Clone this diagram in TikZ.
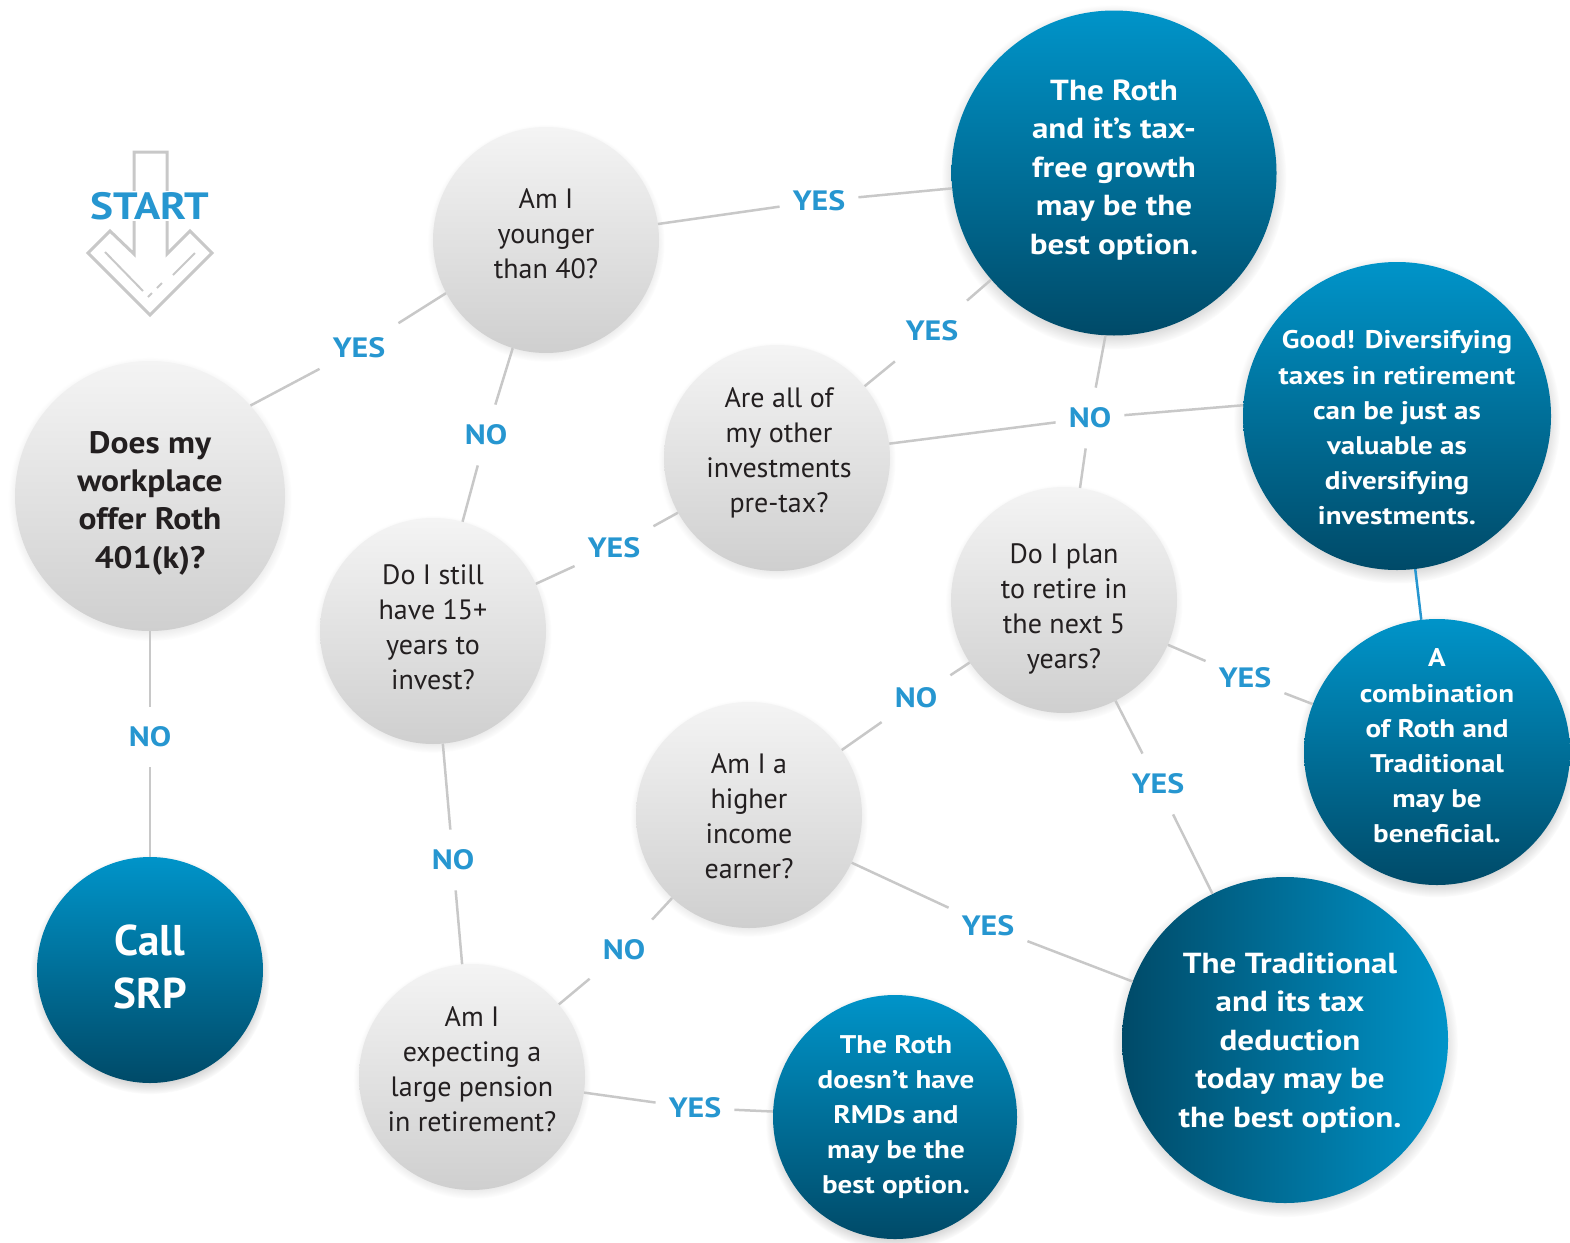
\documentclass[tikz,border=0pt]{standalone}
\usepackage{fontspec}
\setmainfont{PT Sans}
\newfontfamily\widefont{PT Sans}[FakeStretch=1.14]
\newfontfamily\qfont{PT Sans}[FakeStretch=1.08]
\usetikzlibrary{shadows,fadings}
\definecolor{btop}{RGB}{0,148,201}
\definecolor{bbot}{RGB}{0,74,104}
\definecolor{qtop}{RGB}{244,244,244}
\definecolor{qbot}{RGB}{207,207,207}
\definecolor{qtext}{RGB}{35,31,32}
\definecolor{lblue}{RGB}{38,150,208}
\definecolor{edgegray}{RGB}{200,200,200}
\tikzset{
  circ/.style={circle, inner sep=0pt, minimum size=#1},
  gq/.style={circ=#1, top color=qtop, bottom color=qbot,
    circular drop shadow={shadow xshift=0pt, shadow yshift=-3pt, shadow scale=1.05, opacity=0.3}},
  bc/.style={circ=#1, top color=btop, bottom color=bbot,
    circular drop shadow={shadow xshift=0pt, shadow yshift=-4pt, shadow scale=1.06, opacity=0.5}},
  bch/.style={circ=#1, left color=bbot, right color=btop,
    circular drop shadow={shadow xshift=0pt, shadow yshift=-4pt, shadow scale=1.06, opacity=0.5}},
  qtxt/.style={align=center, text=qtext, inner sep=0pt, font=\fontsize{28}{35}\selectfont},
  q1txt/.style={align=center, text=qtext, inner sep=0pt, font=\qfont\bfseries\fontsize{31}{38.3}\selectfont},
  bigtxt/.style={align=center, text=white, inner sep=0pt, font=\widefont\bfseries\fontsize{29}{38.5}\selectfont},
  smtxt/.style={align=center, text=white, inner sep=0pt, font=\widefont\bfseries\fontsize{25.5}{35.2}\selectfont},
  srptxt/.style={align=center, text=white, inner sep=0pt, font=\bfseries\fontsize{43}{53}\selectfont},
  lab/.style={text=lblue, font=\widefont\bfseries\fontsize{28}{30}\selectfont, inner xsep=13pt, inner ysep=20pt},
  link/.style={draw=edgegray, line width=2.5pt},
  bluelink/.style={draw=lblue, line width=2.5pt},
  arrowline/.style={draw=edgegray, line width=3pt, line join=miter},
}
\begin{document}
\begin{tikzpicture}[x=1pt,y=-1pt]
\useasboundingbox (0,0) rectangle (1570,1242);

% START arrow
\draw[arrowline] (134,152) -- (167,152) -- (167,254) -- (190,231) -- (212,253)
  -- (150,315) -- (88,253) -- (110,231) -- (134,254) -- cycle;
\draw[edgegray, line width=2pt] (105,252) -- (143,291);
\draw[edgegray, line width=2pt] (148,297) -- (152,293);
\draw[edgegray, line width=2pt] (157,288) -- (162,283);
\draw[edgegray, line width=2pt] (173,275) -- (195,253);
\node[fill=white, inner sep=1pt, text=lblue, font=\widefont\bfseries\fontsize{38}{40}\selectfont] (start) at (150,206) {START};

% circles
\node[gq=270] (Q1) at (150,496) {};
\node[q1txt] (Q1t) at (150,503) {Does my\\workplace\\offer Roth\\401(k)?};
\node[bc=226] (SRP) at (150,970) {};
\node[srptxt] (SRPt) at (150,967) {Call\\SRP};
\node[gq=226] (Q2) at (546,240) {};
\node[qtxt] (Q2t) at (546,234) {Am I\\younger\\than 40?};
\node[bc=325] (R1) at (1114,173) {};
\node[bigtxt] (R1t) at (1114,170) {The Roth\\and it’s tax-\\free growth\\may be the\\best option.};
\node[gq=226] (Q3) at (777,458) {};
\node[qtxt] (Q3t) at (779,453) {Are all of\\my other\\investments\\pre-tax?};
\node[bc=308] (R2) at (1397,416) {};
\node[smtxt] (R2t) at (1397,428) {Good! Diversifying\\taxes in retirement\\can be just as\\valuable as\\diversifying\\investments.};
\node[gq=226] (Q4) at (433,631) {};
\node[qtxt] (Q4t) at (433,627) {Do I still\\have 15+\\years to\\invest?};
\node[gq=226] (Q5) at (1064,600) {};
\node[qtxt] (Q5t) at (1064,609) {Do I plan\\to retire in\\the next 5\\years?};
\node[bc=266] (R3) at (1437,752) {};
\node[smtxt] (R3t) at (1437,746) {A\\combination\\of Roth and\\Traditional\\may be\\beneficial.};
\node[gq=226] (Q6) at (749,815) {};
\node[qtxt] (Q6t) at (749,816) {Am I a\\higher\\income\\earner?};
\node[bch=326] (R4) at (1285,1040) {};
\node[bigtxt] (R4t) at (1290,1043) {The Traditional\\and its tax\\deduction\\today may be\\the best option.};
\node[gq=226] (Q7) at (472,1077) {};
\node[qtxt] (Q7t) at (472,1069) {Am I\\expecting a\\large pension\\in retirement?};
\node[bc=244] (R5) at (895,1117) {};
\node[smtxt] (R5t) at (896,1117) {The Roth\\doesn’t have\\RMDs and\\may be the\\best option.};

% labels
\node[lab] (L1) at (359,348) {YES};
\node[lab] (L2) at (150,737) {NO};
\node[lab] (L3) at (819,201) {YES};
\node[lab] (L4) at (486,435) {NO};
\node[lab] (L5) at (614,548) {YES};
\node[lab] (L6) at (932,331) {YES};
\node[lab] (L7) at (1090,418) {NO};
\node[lab] (L8) at (453,860) {NO};
\node[lab] (L9) at (916,698) {NO};
\node[lab] (L10) at (1245,678) {YES};
\node[lab] (L11) at (1158,784) {YES};
\node[lab] (L12) at (988,926) {YES};
\node[lab] (L13) at (624,950) {NO};
\node[lab] (L14) at (695,1108) {YES};

% connectors
\draw[link] (Q1.42) -- (L1) -- (Q2.208);
\draw[link] (Q1) -- (L2) -- (SRP);
\draw[link] (Q2) -- (L3) -- (R1);
\draw[link] (Q2) -- (L4) -- (Q4);
\draw[link] (Q4) -- (L5) -- (Q3);
\draw[link] (Q3) -- (L6) -- (R1);
\draw[link] (Q3) -- (L7) -- (R2.176);
\draw[link] (R1.267) -- (L7) -- (Q5);
\draw[link] (Q4) -- (L8) -- (Q7);
\draw[link] (Q5) -- (L9) -- (Q6);
\draw[link] (Q5) -- (L10) -- (R3);
\draw[link] (Q5) -- (L11) -- (R4);
\draw[link] (Q6) -- (L12) -- (R4);
\draw[link] (Q6) -- (L13) -- (Q7);
\draw[link] (Q7) -- (L14) -- (R5);
\draw[bluelink] (R2) -- (R3);
\end{tikzpicture}
\end{document}
